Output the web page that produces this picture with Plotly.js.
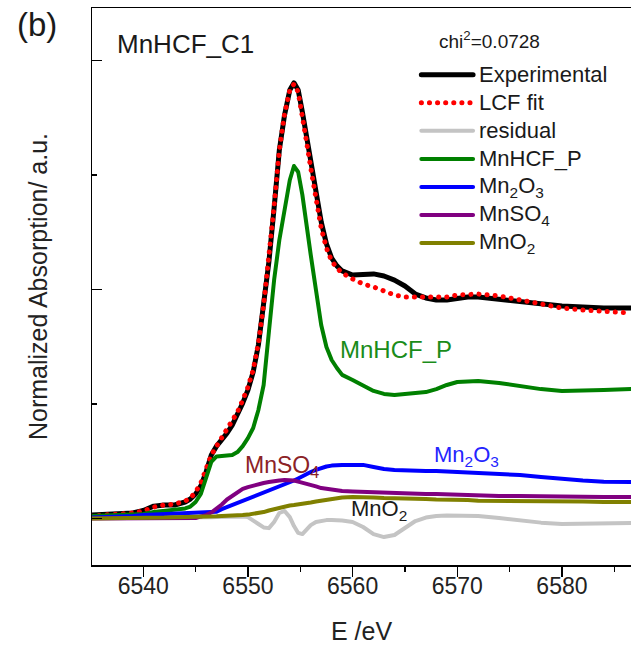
<!DOCTYPE html>
<html>
<head>
<meta charset="utf-8">
<script src="https://cdn.plot.ly/plotly-3.0.1.min.js"></script>
<style>
  html, body { margin: 0; padding: 0; background: #fff; }
  #chart { width: 631px; height: 647px; }
  .scatterlayer .js-line, .shapelayer path { stroke-linecap: round !important; stroke-linejoin: round !important; }
</style>
</head>
<body>
<div id="chart"></div>
<script>
// Mn K-edge XANES of MnHCF_C1 with its linear combination fit (normalized units)
const energy = [6535, 6537, 6539, 6540, 6541, 6542, 6543, 6544, 6544.5, 6545,
  6545.5, 6546, 6546.5, 6547, 6547.5, 6548, 6548.5, 6549, 6549.5, 6550,
  6550.5, 6551, 6551.5, 6552, 6552.5, 6553, 6553.5, 6554, 6554.4, 6554.8,
  6555.2, 6555.6, 6556, 6556.5, 6557, 6557.5, 6558, 6558.5, 6559, 6560,
  6561, 6562, 6563, 6564, 6565, 6566, 6567, 6568, 6569, 6570,
  6571, 6572, 6574, 6576, 6578, 6580, 6582, 6584, 6586.6];

const experimental = [0.016, 0.018, 0.025, 0.036, 0.055, 0.060, 0.060, 0.073, 0.086, 0.108,
  0.143, 0.204, 0.278, 0.317, 0.344, 0.374, 0.409, 0.453, 0.505, 0.562,
  0.641, 0.759, 0.925, 1.121, 1.357, 1.610, 1.763, 1.872, 1.903, 1.872,
  1.776, 1.662, 1.558, 1.422, 1.296, 1.200, 1.138, 1.104, 1.082, 1.064,
  1.064, 1.069, 1.060, 1.042, 1.016, 0.981, 0.964, 0.955, 0.955, 0.964,
  0.968, 0.968, 0.959, 0.946, 0.938, 0.929, 0.925, 0.920, 0.920];

const lcfFit = [0.012, 0.016, 0.025, 0.034, 0.051, 0.060, 0.064, 0.077, 0.090, 0.117,
  0.156, 0.217, 0.278, 0.317, 0.352, 0.387, 0.422, 0.466, 0.518, 0.575,
  0.649, 0.767, 0.933, 1.130, 1.366, 1.610, 1.767, 1.872, 1.898, 1.863,
  1.763, 1.645, 1.531, 1.392, 1.269, 1.182, 1.125, 1.095, 1.073, 1.047,
  1.025, 1.012, 0.994, 0.977, 0.968, 0.968, 0.968, 0.964, 0.968, 0.977,
  0.981, 0.981, 0.973, 0.955, 0.938, 0.920, 0.911, 0.903, 0.898];

const residual = [0.003, 0.003, 0.004, 0.005, 0.005, 0.006, 0.007, 0.007, 0.007, 0.007,
  0.007, 0.007, 0.007, 0.008, 0.009, 0.010, 0.010, 0.012, 0.010, 0.007,
  -0.006, -0.023, -0.038, -0.041, -0.014, 0.025, 0.034, 0.007, -0.032, -0.062,
  -0.067, -0.049, -0.028, -0.014, -0.008, -0.006, -0.006, -0.006, -0.008, -0.014,
  -0.036, -0.067, -0.080, -0.071, -0.041, -0.010, 0.005, 0.012, 0.014, 0.014,
  0.014, 0.012, 0.003, -0.008, -0.017, -0.023, -0.023, -0.021, -0.019];

const mnhcfP = [0.012, 0.014, 0.018, 0.021, 0.029, 0.034, 0.038, 0.045, 0.053, 0.073,
  0.108, 0.173, 0.248, 0.272, 0.274, 0.274, 0.278, 0.291, 0.317, 0.352,
  0.396, 0.475, 0.584, 0.815, 1.042, 1.217, 1.361, 1.479, 1.540, 1.514,
  1.414, 1.296, 1.152, 0.999, 0.846, 0.750, 0.693, 0.658, 0.628, 0.606,
  0.584, 0.558, 0.545, 0.540, 0.545, 0.549, 0.553, 0.566, 0.584, 0.597,
  0.601, 0.601, 0.593, 0.580, 0.566, 0.558, 0.558, 0.562, 0.566];

const mn2o3 = [0.005, 0.007, 0.012, 0.016, 0.018, 0.021, 0.023, 0.025, 0.025, 0.025,
  0.025, 0.025, 0.027, 0.031, 0.042, 0.051, 0.060, 0.069, 0.077, 0.086,
  0.095, 0.103, 0.112, 0.121, 0.130, 0.138, 0.147, 0.158, 0.167, 0.176,
  0.186, 0.195, 0.204, 0.213, 0.221, 0.228, 0.232, 0.235, 0.235, 0.235,
  0.235, 0.226, 0.217, 0.213, 0.210, 0.208, 0.208, 0.208, 0.206, 0.204,
  0.202, 0.200, 0.197, 0.191, 0.182, 0.173, 0.167, 0.162, 0.160];

const mnso4 = [0.001, 0.001, 0.001, 0.001, -0.001, -0.001, -0.001, -0.001, 0.001, 0.003,
  0.010, 0.016, 0.027, 0.042, 0.062, 0.084, 0.101, 0.117, 0.130, 0.138,
  0.145, 0.152, 0.156, 0.160, 0.165, 0.167, 0.169, 0.169, 0.167, 0.162,
  0.158, 0.154, 0.147, 0.141, 0.134, 0.130, 0.125, 0.123, 0.121, 0.119,
  0.117, 0.117, 0.114, 0.112, 0.112, 0.110, 0.108, 0.108, 0.106, 0.103,
  0.103, 0.101, 0.099, 0.099, 0.097, 0.097, 0.097, 0.095, 0.095];

const mno2 = [0.001, 0.001, 0.002, 0.003, 0.004, 0.005, 0.007, 0.007, 0.007, 0.008,
  0.009, 0.010, 0.010, 0.011, 0.012, 0.012, 0.013, 0.014, 0.016, 0.018,
  0.021, 0.025, 0.029, 0.036, 0.042, 0.049, 0.053, 0.058, 0.060, 0.062,
  0.064, 0.069, 0.071, 0.075, 0.079, 0.082, 0.086, 0.088, 0.093, 0.095,
  0.095, 0.093, 0.090, 0.090, 0.088, 0.086, 0.086, 0.084, 0.084, 0.082,
  0.082, 0.079, 0.079, 0.077, 0.077, 0.075, 0.075, 0.073, 0.073];

const xTicks = [6540, 6550, 6560, 6570, 6580];
const chiSquared = '0.0728';

const FONT = 'Liberation Sans, Arial, sans-serif';

// legend order; draw order puts the residual underneath
const series = [
  { name: 'Experimental', y: experimental, color: '#000000', width: 5, dash: 'solid' },
  { name: 'LCF fit', y: lcfFit, color: '#ff0000', width: 5, dash: '0.1px,8px' },
  { name: 'residual', y: residual, color: '#c4c4c4', width: 4, dash: 'solid' },
  { name: 'MnHCF_P', y: mnhcfP, color: '#008000', width: 4, dash: 'solid' },
  { name: 'Mn<sub>2</sub>O<sub>3</sub>', y: mn2o3, color: '#0000ff', width: 4, dash: 'solid' },
  { name: 'MnSO<sub>4</sub>', y: mnso4, color: '#800080', width: 4, dash: 'solid' },
  { name: 'MnO<sub>2</sub>', y: mno2, color: '#808000', width: 4, dash: 'solid' }
];

const drawOrder = [2, 0, 1, 3, 4, 5, 6];
const traces = drawOrder.map(i => {
  const s = series[i];
  return {
    type: 'scatter', mode: 'lines', name: s.name,
    x: energy, y: s.y, showlegend: false, hoverinfo: 'skip',
    line: { color: s.color, width: s.width, dash: s.dash }
  };
});

// hand-placed legend in the upper right of the plot area
const legTop = 0.880, legStep = 0.0503;
const legX0 = 0.611, legX1 = 0.707, legText = 0.714;
const shapes = [];
const annotations = [];
series.forEach((s, i) => {
  const yy = legTop - i * legStep;
  shapes.push({
    type: 'line', xref: 'paper', yref: 'paper',
    x0: legX0, x1: legX1, y0: yy, y1: yy,
    line: { color: s.color, width: s.width, dash: s.dash }
  });
  annotations.push({
    xref: 'paper', yref: 'paper', x: legText, y: yy,
    xanchor: 'left', yanchor: 'middle', showarrow: false,
    text: s.name, font: { family: FONT, size: 22, color: '#1a1a1a' }
  });
});

annotations.push(
  { xref: 'paper', yref: 'paper', x: -0.102, y: 0.971, xanchor: 'center', yanchor: 'middle',
    showarrow: false, text: '(b)', font: { family: FONT, size: 33, color: '#1a1a1a' } },
  { xref: 'paper', yref: 'paper', x: 0.043, y: 0.935, xanchor: 'left', yanchor: 'middle',
    showarrow: false, text: 'MnHCF_C1', font: { family: FONT, size: 26, color: '#1a1a1a' } },
  { xref: 'paper', yref: 'paper', x: 0.738, y: 0.942, xanchor: 'center', yanchor: 'middle',
    showarrow: false, text: 'chi<sup>2</sup>=' + chiSquared, font: { family: FONT, size: 19, color: '#1a1a1a' } },
  { xref: 'x', yref: 'y', x: 6558.6, y: 0.741, xanchor: 'left', yanchor: 'middle',
    showarrow: false, text: 'MnHCF_P', font: { family: FONT, size: 24, color: '#1a8c1a' } },
  { xref: 'x', yref: 'y', x: 6549.5, y: 0.228, xanchor: 'left', yanchor: 'middle',
    showarrow: false, text: 'MnSO<sub>4</sub>', font: { family: FONT, size: 23, color: '#8b2226' } },
  { xref: 'x', yref: 'y', x: 6567.6, y: 0.275, xanchor: 'left', yanchor: 'middle',
    showarrow: false, text: 'Mn<sub>2</sub>O<sub>3</sub>', font: { family: FONT, size: 22, color: '#2424ff' } },
  { xref: 'x', yref: 'y', x: 6559.7, y: 0.036, xanchor: 'left', yanchor: 'middle',
    showarrow: false, text: 'MnO<sub>2</sub>', font: { family: FONT, size: 22, color: '#1a1a1a' } }
);

const layout = {
  width: 631, height: 647,
  margin: { l: 92, r: 0, t: 8, b: 82 },
  paper_bgcolor: '#ffffff', plot_bgcolor: '#ffffff',
  font: { family: FONT, color: '#1a1a1a' },
  showlegend: false,
  xaxis: {
    range: [6535.1, 6586.6],
    tickvals: xTicks, ticktext: xTicks.map(String),
    ticks: 'outside', ticklen: 10, tickwidth: 1.5, tickcolor: '#000',
    ticklabelstandoff: -10,
    tickfont: { family: FONT, size: 23, color: '#222' },
    minor: { tick0: 6535, dtick: 5, ticks: 'outside', ticklen: 5, tickwidth: 1.5, tickcolor: '#000', showgrid: false },
    showline: true, linecolor: '#000', linewidth: 1.5, mirror: true,
    showgrid: false, zeroline: false,
    title: { text: 'E /eV', standoff: 24, font: { family: FONT, size: 25, color: '#222' } }
  },
  yaxis: {
    range: [-0.202, 2.230],
    tick0: 0, dtick: 1,
    ticks: 'inside', ticklen: 10, tickwidth: 1.5, tickcolor: '#000',
    showticklabels: false,
    minor: { tick0: 0, dtick: 0.5, ticks: 'inside', ticklen: 5, tickwidth: 1.5, tickcolor: '#000', showgrid: false },
    showline: true, linecolor: '#000', linewidth: 1.5,
    showgrid: false, zeroline: false,
    title: { text: 'Normalized Absorption/ a.u.', standoff: 36, font: { family: FONT, size: 25, color: '#222' } }
  },
  shapes: shapes,
  annotations: annotations
};

Plotly.newPlot('chart', traces, layout, { displayModeBar: false, staticPlot: true });
</script>
</body>
</html>
